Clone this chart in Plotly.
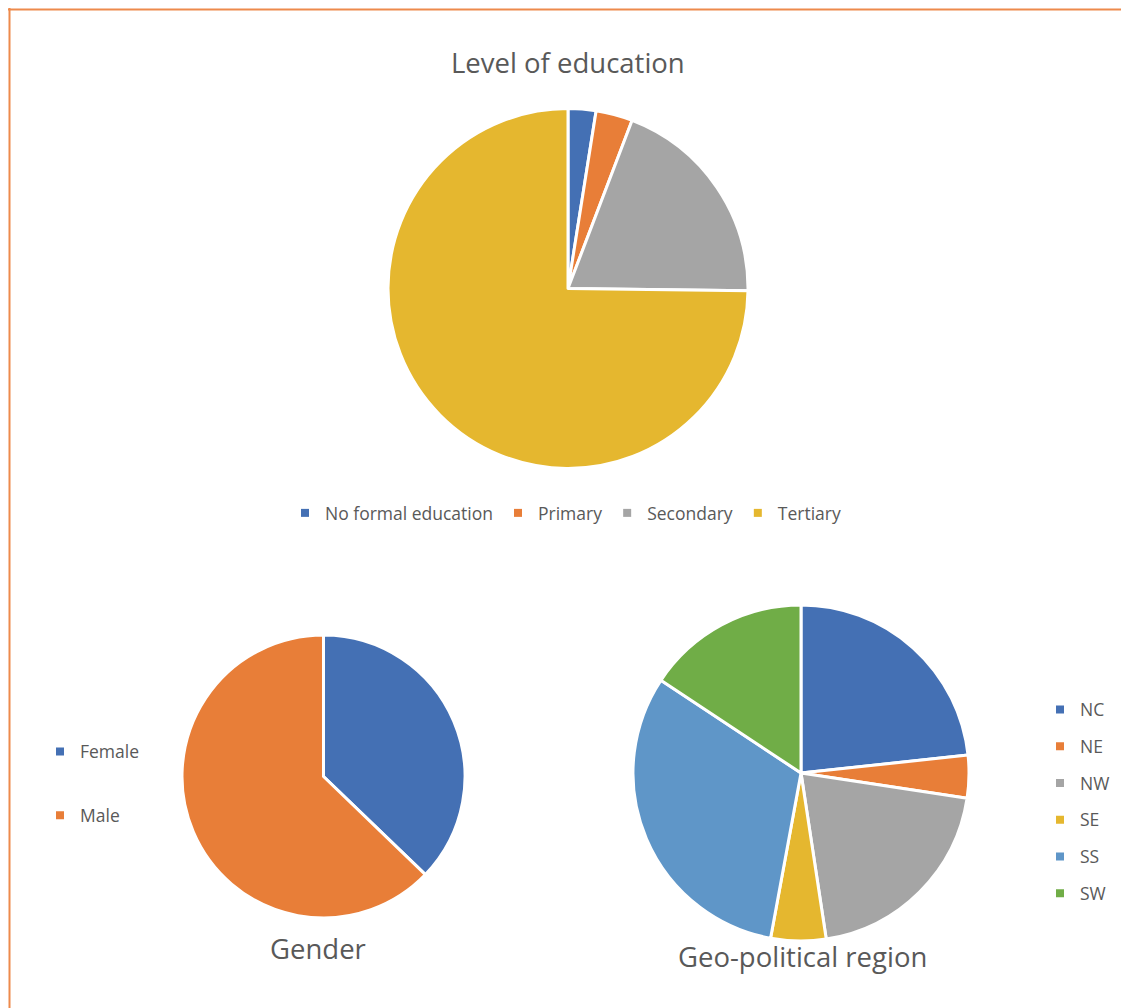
import plotly.graph_objects as go

W, H = 1129, 1008
OFF = 8  # page body margin offset

edu_labels = ["No formal education", "Primary", "Secondary", "Tertiary"]
edu_values = [2.5, 3.3, 19.4, 74.8]
edu_colors = ["#4470B4", "#E87E38", "#A5A5A5", "#E5B72F"]

gender_labels = ["Female", "Male"]
gender_values = [37.2, 62.8]
gender_colors = ["#4470B4", "#E87E38"]

geo_labels = ["NC", "NE", "NW", "SE", "SS", "SW"]
geo_values = [23.3, 4.1, 20.2, 5.3, 31.4, 15.7]
geo_colors = ["#4470B4", "#E87E38", "#A5A5A5", "#E5B72F", "#5F96C8", "#70AD47"]

FONT = "Open Sans"
TXT = "#595959"


def px(x):
    return (x - OFF) / W


def py(y):
    return 1 - (y - OFF) / H


def dom(cx, cy, r):
    return dict(x=[px(cx - r), px(cx + r)], y=[py(cy + r), py(cy - r)])


fig = go.Figure()


def add_pie(labels, values, colors, d):
    fig.add_trace(go.Pie(labels=labels, values=values, sort=False,
                         direction="clockwise", rotation=0,
                         marker=dict(colors=colors, line=dict(color="white", width=3)),
                         textinfo="none", hoverinfo="label+percent",
                         showlegend=False, domain=d))


add_pie(edu_labels, edu_values, edu_colors, dom(568, 288.5, 180))
add_pie(gender_labels, gender_values, gender_colors, dom(323.5, 776.5, 141.5))
add_pie(geo_labels, geo_values, geo_colors, dom(801, 773, 168))


def add_legend_items(labels, colors, legend):
    for lab, col in zip(labels, colors):
        fig.add_trace(go.Scatter(x=[None], y=[None], mode="markers",
                                 marker=dict(symbol="square", size=8, color=col),
                                 name=lab, legend=legend, legendgroup=legend + lab,
                                 showlegend=True, hoverinfo="skip"))


add_legend_items(edu_labels, edu_colors, "legend")
add_legend_items(gender_labels, gender_colors, "legend2")
add_legend_items(geo_labels, geo_colors, "legend3")

legend_common = dict(font=dict(family=FONT, size=17.5, color=TXT),
                     bgcolor="rgba(0,0,0,0)", itemclick=False, itemdoubleclick=False)

TITLE_FONT = dict(family=FONT, size=27.5, color=TXT)

fig.update_layout(
    width=W, height=H,
    margin=dict(l=0, r=0, t=0, b=0),
    paper_bgcolor="white", plot_bgcolor="white",
    xaxis=dict(visible=False), yaxis=dict(visible=False),
    legend=dict(orientation="h", x=px(285), y=py(513), xanchor="left", yanchor="middle",
                **legend_common),
    legend2=dict(orientation="v", x=px(40), y=py(783.5), xanchor="left", yanchor="middle",
                 tracegroupgap=38, **legend_common),
    legend3=dict(orientation="v", x=px(1040), y=py(801.5), xanchor="left", yanchor="middle",
                 tracegroupgap=11, **legend_common),
    annotations=[
        dict(text="Level of education", x=px(568), y=py(62), xref="paper", yref="paper",
             showarrow=False, xanchor="center", yanchor="middle", font=TITLE_FONT),
        dict(text="Gender", x=px(318), y=py(948), xref="paper", yref="paper",
             showarrow=False, xanchor="center", yanchor="middle", font=TITLE_FONT),
        dict(text="Geo-political region", x=px(802), y=py(956), xref="paper", yref="paper",
             showarrow=False, xanchor="center", yanchor="middle", font=TITLE_FONT),
    ],
    shapes=[
        dict(type="line", xref="paper", yref="paper", x0=px(8), x1=1, y0=py(9.5), y1=py(9.5),
             line=dict(color="#ED8A4C", width=2)),
        dict(type="line", xref="paper", yref="paper", x0=px(9.5), x1=px(9.5), y0=0, y1=py(8),
             line=dict(color="#ED8A4C", width=2)),
    ],
)

fig.write_html("out.html")
